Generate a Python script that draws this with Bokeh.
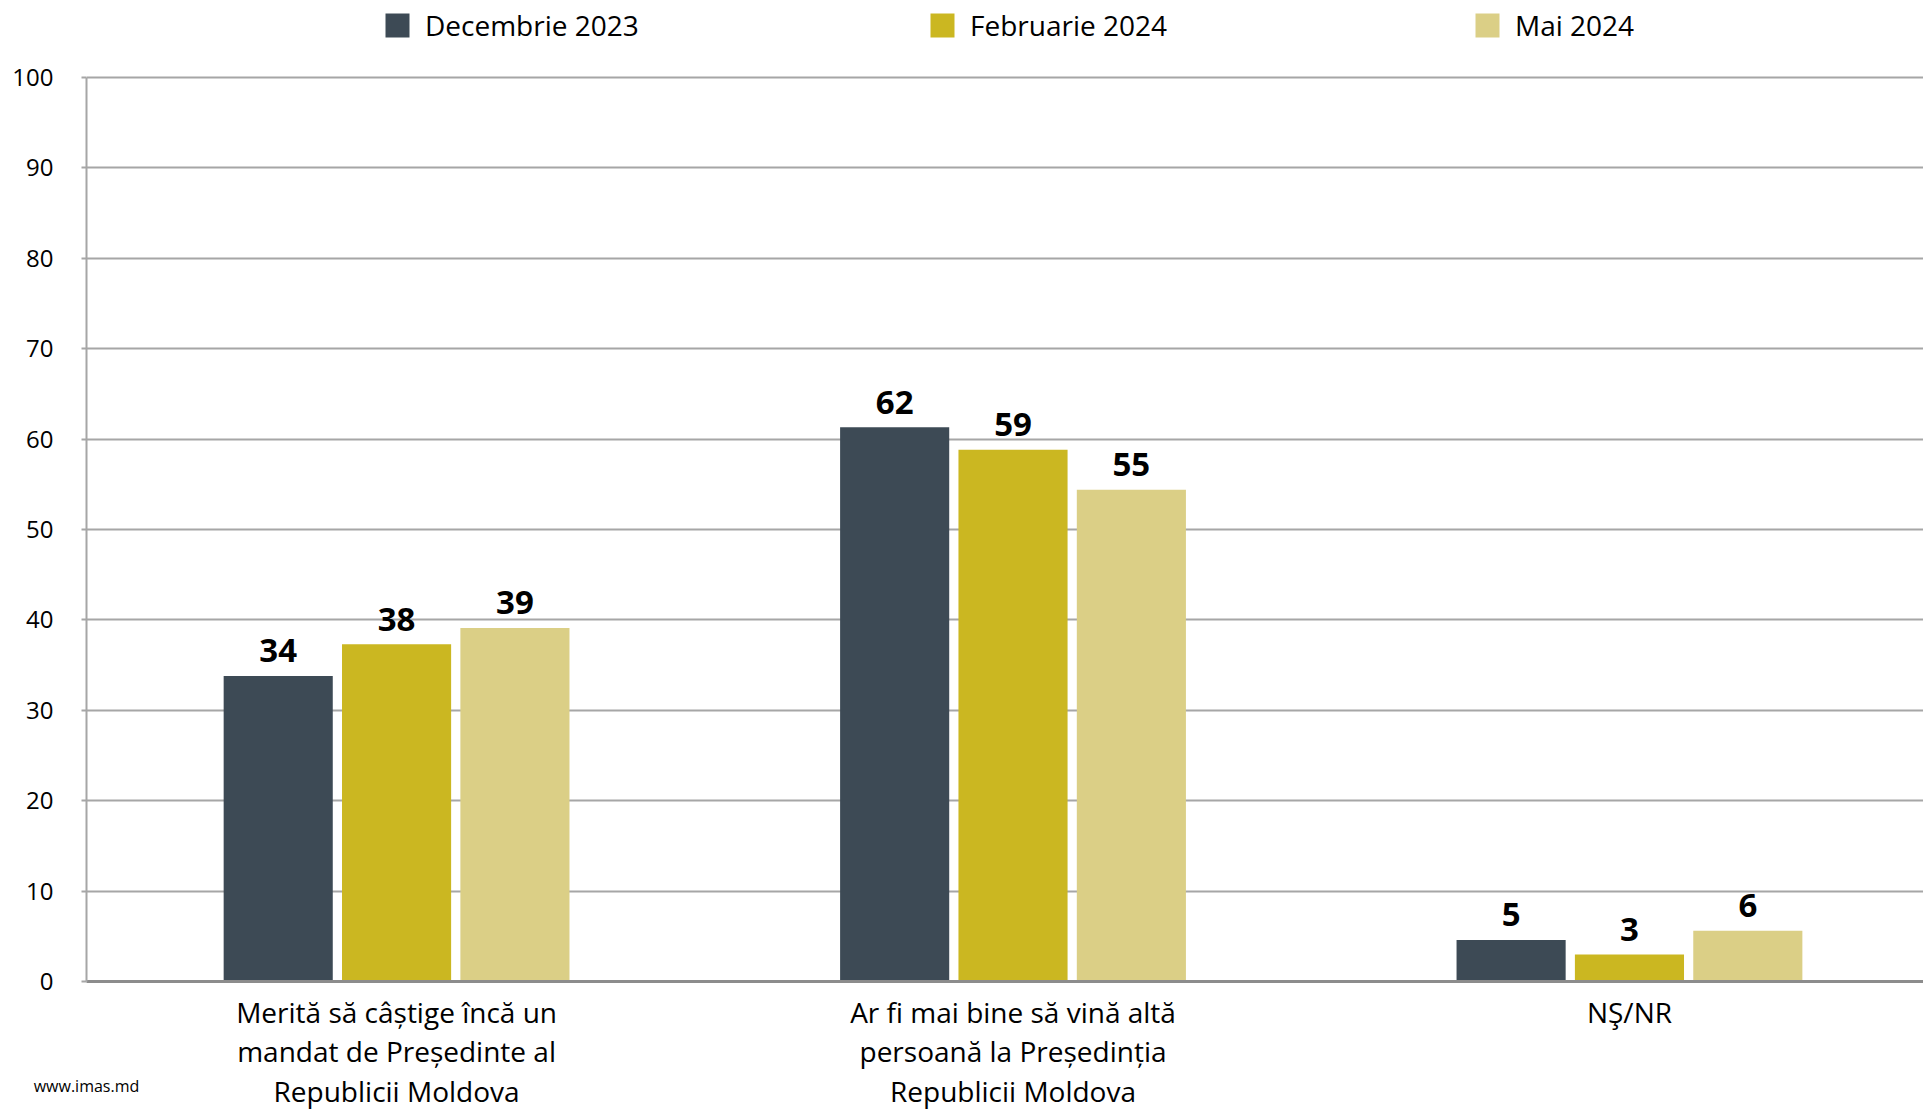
from bokeh.plotting import figure
from bokeh.models import Range1d, FixedTicker, Legend, LegendItem, ColumnDataSource
from bokeh.transform import dodge
from bokeh.core.properties import value
from bokeh.embed import file_html
from bokeh.resources import INLINE

categories = [
    "Merită să câștige încă un\nmandat de Președinte al\nRepublicii Moldova",
    "Ar fi mai bine să vină altă\npersoană la Președinția\nRepublicii Moldova",
    "NŞ/NR",
]
series_names = ["Decembrie 2023", "Februarie 2024", "Mai 2024"]
dec_2023 = [33.8, 61.3, 4.6]
feb_2024 = [37.3, 58.8, 3.0]
mai_2024 = [39.1, 54.4, 5.6]
dec_labels = ["34", "62", "5"]
feb_labels = ["38", "59", "3"]
mai_labels = ["39", "55", "6"]
y_ticks = [0, 10, 20, 30, 40, 50, 60, 70, 80, 90, 100]
source_note = "www.imas.md"

colors = ["#3D4A55", "#CBB721", "#DBCF86"]
FONT = "Open Sans"

src = ColumnDataSource(dict(
    x=list(range(len(categories))),
    dec=dec_2023, feb=feb_2024, mai=mai_2024,
    dec_l=dec_labels, feb_l=feb_labels, mai_l=mai_labels,
))

# frame spans the full top so the legend (drawn in the frame) is not clipped;
# the axis line is bounded to 0..100
p = figure(width=1923, height=1109, output_backend="svg", toolbar_location=None,
           x_range=Range1d(-0.503, 2.477), y_range=Range1d(0, 108.5),
           min_border_left=86, min_border_right=0, min_border_top=0, min_border_bottom=128)
p.outline_line_color = None
p.xgrid.visible = False
p.ygrid.grid_line_color = "#A6A6A6"
p.ygrid.grid_line_width = 2
p.ygrid.ticker = FixedTicker(ticks=y_ticks)

p.yaxis.ticker = FixedTicker(ticks=y_ticks)
p.yaxis.bounds = (0, 100)
p.yaxis.axis_line_color = "#A6A6A6"
p.yaxis.axis_line_width = 2
p.yaxis.major_tick_line_color = "#A6A6A6"
p.yaxis.major_tick_line_width = 2
p.yaxis.major_tick_out = 5
p.yaxis.major_tick_in = 0
p.yaxis.minor_tick_line_color = None
p.yaxis.major_label_standoff = 28
p.yaxis.major_label_text_font = FONT
p.yaxis.major_label_text_font_size = "24px"
p.yaxis.major_label_text_color = "#000000"

xax = p.xaxis[0]
xax.ticker = FixedTicker(ticks=list(range(len(categories))))
xax.major_label_overrides = {i: c for i, c in enumerate(categories)}
xax.axis_line_color = "#8C8C8C"
xax.axis_line_width = 3
xax.major_tick_line_color = None
xax.minor_tick_line_color = None
xax.major_tick_out = 0
xax.major_tick_in = 0
xax.major_label_standoff = 11
xax.major_label_text_font = FONT
xax.major_label_text_font_size = "28px"
xax.major_label_text_line_height = 1.05
xax.major_label_text_color = "#000000"
# source note drawn as the axis label, pulled up next to the last line of category labels
xax.axis_label = source_note
xax.axis_label_text_font = FONT
xax.axis_label_text_font_size = "16px"
xax.axis_label_text_font_style = "normal"
xax.axis_label_text_color = "#000000"
xax.axis_label_standoff = -38
xax.axis_label_align = "start"

step = 0.192
bw = 0.177
renderers = []
for off, col, lab, c in [(-step, "dec", "dec_l", colors[0]), (0, "feb", "feb_l", colors[1]), (step, "mai", "mai_l", colors[2])]:
    r = p.vbar(x=dodge("x", off, range=p.x_range), top=col, width=bw, source=src,
               fill_color=c, line_color=None)
    renderers.append(r)
    p.text(x=dodge("x", off, range=p.x_range), y=col, text=lab, source=src,
           text_align="center", text_baseline="middle", y_offset=-25,
           text_font=value(FONT), text_font_style="bold", text_font_size="33px",
           text_color="#000000")

lg = Legend(items=[LegendItem(label=n, renderers=[r]) for n, r in zip(series_names, renderers)],
            location=(296, 937), orientation="horizontal", padding=0, margin=0, spacing=5,
            border_line_alpha=0, background_fill_alpha=0,
            glyph_width=30, glyph_height=30, label_height=25, label_width=497,
            label_standoff=13, label_text_font=FONT, label_text_font_size="28px",
            label_text_color="#000000", label_text_baseline="middle")
p.add_layout(lg, "center")

open("out.html", "w").write(file_html(p, INLINE))
